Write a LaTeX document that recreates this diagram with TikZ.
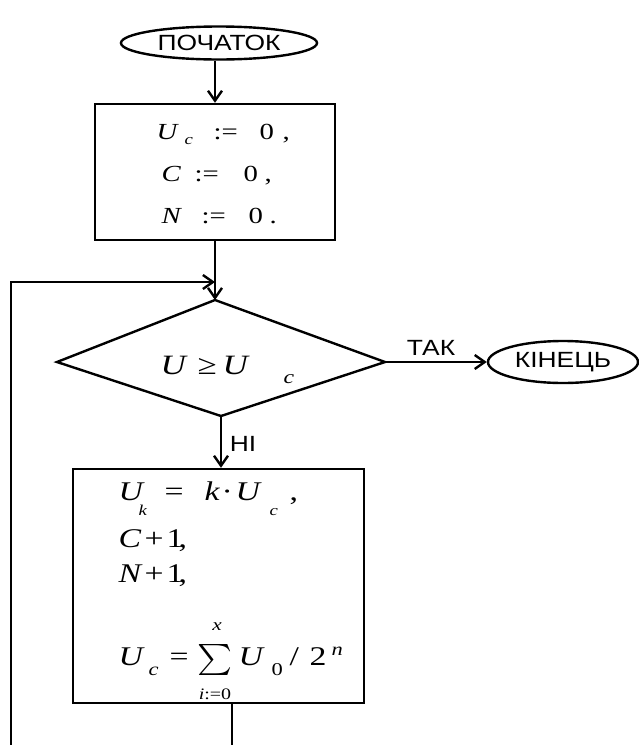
\documentclass[tikz,border=0pt]{standalone}
\usepackage{fontspec}
\usepackage{graphicx}
\setmainfont{Liberation Serif}
\newfontfamily\labfont{Liberation Sans}
\usetikzlibrary{arrows.meta,shapes.geometric}
\newcommand{\fs}[1]{\fontsize{#1}{#1}\selectfont}
\newcommand{\sx}[1]{\scalebox{1.25}[1]{#1}}
\newcommand{\I}[2]{{\fs{#1}\itshape\sx{#2}}}
\newcommand{\R}[2]{{\fs{#1}\upshape\sx{#2}}}
\newcommand{\pa}[3]{\rlap{\hspace*{#1pt}\raisebox{#2pt}{#3}}}
\newcommand{\lt}[1]{{\labfont\fs{22}\scalebox{1.2}[1]{#1}}}
\begin{document}
\begin{tikzpicture}[x=1pt,y=-1pt,line width=2.4pt,
  >={Straight Barb[length=10pt,width=14pt]},
  every node/.style={inner sep=0pt},
  term/.style={ellipse,draw},
  proc/.style={rectangle,draw}]
\useasboundingbox (0,0) rectangle (639,745);
% terminators
\node[term,minimum width=196pt,minimum height=33pt] (start) at (219,43) {\lt{ПОЧАТОК}};
\node[term,minimum width=150pt,minimum height=42pt] (end) at (563,362) {\lt{КІНЕЦЬ}};
% process boxes
\node[proc,minimum width=240pt,minimum height=136pt] (box1) at (215,172) {};
\node[proc,minimum width=291pt,minimum height=234pt] (box2) at (218.5,586) {};
% decision
\coordinate (dtop) at (215,300);
\coordinate (dright) at (385,362);
\coordinate (dbottom) at (221,416);
\coordinate (dleft) at (57,362);
\draw (dtop) -- (dright) -- (dbottom) -- (dleft) -- cycle;
% loop coordinates
\coordinate (join) at (215,282);
\coordinate (lcorner) at (11,282);
\coordinate (lstart) at (11,745);
\coordinate (bout) at (232,745);
% connectors
\draw[->] (start.south -| box1.north) -- (box1.north);
\draw[->] (box1.south) -- (dtop);
\draw[->] (lstart) -- (lcorner) -- (join);
\draw[->] (dright) -- (end.west);
\draw[->] (dbottom) -- (dbottom |- box2.north);
\draw (box2.south -| bout) -- (bout);
% labels
\node (tak) at (431,348) {\lt{ТАК}};
\node (ni) at (243,444) {\lt{НІ}};
% box 1 text
\node[anchor=base west] (b1a) at (155,139) {\pa{0}{0}{\I{23}{U}}\pa{28}{-5}{\I{15}{c}}\pa{57}{0}{\R{23}{:=}}\pa{103}{0}{\R{23}{0}}\pa{126}{0}{\R{23}{,}}};
\node[anchor=base west] (b1b) at (160,181) {\pa{0}{0}{\I{23}{C}}\pa{33}{0}{\R{23}{:=}}\pa{82}{0}{\R{23}{0}}\pa{103}{0}{\R{23}{,}}};
\node[anchor=base west] (b1c) at (160,223) {\pa{0}{0}{\I{23}{N}}\pa{40}{0}{\R{23}{:=}}\pa{87}{0}{\R{23}{0}}\pa{108}{0}{\R{23}{.}}};
% decision text
\node[anchor=base west] (dtxt) at (159,374) {\pa{0}{0}{\I{28}{U}}\pa{37}{0}{\R{28}{≥}}\pa{62}{0}{\I{28}{U}}\pa{123}{-9}{\I{19}{c}}};
% box 2 text
\node[anchor=base west] (b2a) at (117,500) {\pa{0}{0}{\I{27}{U}}\pa{20}{-15}{\I{15}{k}}\pa{46}{0}{\R{27}{=}}\pa{86}{0}{\I{27}{k}}\pa{103}{0}{\R{27}{·}}\pa{117}{0}{\I{27}{U}}\pa{151}{-15}{\I{15}{c}}\pa{171}{0}{\R{27}{,}}};
\node[anchor=base west] (b2b) at (117,547) {\pa{0}{0}{\I{27}{C}}\pa{26}{0}{\R{27}{+}}\pa{48}{0}{\R{27}{1}}\pa{60}{0}{\R{27}{,}}};
\node[anchor=base west] (b2c) at (117,582) {\pa{0}{0}{\I{27}{N}}\pa{26}{0}{\R{27}{+}}\pa{48}{0}{\R{27}{1}}\pa{60}{0}{\R{27}{,}}};
\node[anchor=base west] (b2d) at (117,665) {\pa{0}{0}{\I{27}{U}}\pa{30}{-10}{\I{18}{c}}\pa{51}{0}{\R{27}{=}}\pa{120}{0}{\I{27}{U}}\pa{153}{-10}{\R{18}{0}}\pa{171}{0}{\R{27}{/}}\pa{191}{0}{\R{27}{2}}\pa{213}{10}{\I{18}{n}}};
\node (sum) at (215,660) {\resizebox*{35pt}{31pt}{$\sum$}};
\node (supx) at (217,627) {\I{17}{x}};
\node (subi) at (215,694) {\I{16}{i}\R{16}{:=0}};
\end{tikzpicture}
\end{document}
